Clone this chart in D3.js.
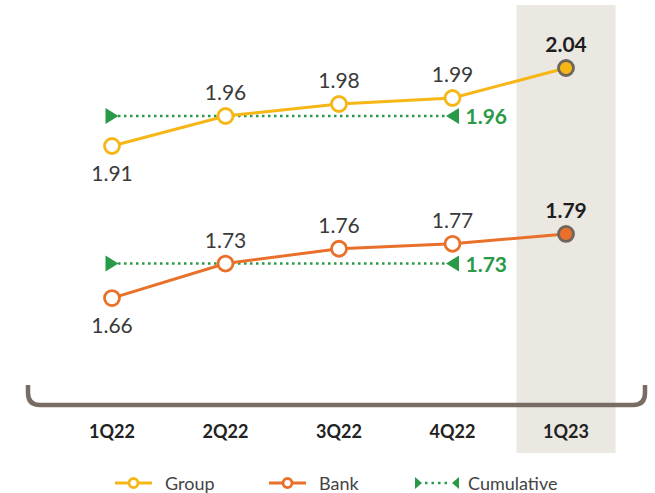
<!DOCTYPE html>
<html><head><meta charset="utf-8">
<script src="https://cdn.jsdelivr.net/npm/d3@7"></script>
<style>
html,body{margin:0;padding:0;background:#fff;}
svg{display:block;font-family:Lato,"Noto Sans",sans-serif;}
</style></head>
<body>
<svg id="chart" width="655" height="493"></svg>
<script>
const categories = ["1Q22", "2Q22", "3Q22", "4Q22", "1Q23"];
const groupValues = [1.91, 1.96, 1.98, 1.99, 2.04];
const bankValues = [1.66, 1.73, 1.76, 1.77, 1.79];
const cumulativeCategories = ["1Q22", "4Q22"];
const groupCumulative = 1.96;
const bankCumulative = 1.73;
const legendLabels = ["Group", "Bank", "Cumulative"];
const highlightCategory = "1Q23";

const colors = { group: "#f6b716", bank: "#e8702a", cum: "#2a9a48", bracket: "#786d64", hl: "#ebe8e2", ptStroke: "#6e655c" };

const svg = d3.select("#chart");
const x = d3.scalePoint().domain(categories).range([112, 566]);
const yGroup = d3.scaleLinear().domain([1.90, 2.05]).range([152, 62]);
const yBank = d3.scaleLinear().domain([1.65, 1.80]).range([303, 229]);

// highlight band
svg.append("rect")
  .attr("x", x(highlightCategory) - 49.5).attr("y", 5)
  .attr("width", 99).attr("height", 448)
  .attr("fill", colors.hl);

// bracket
const bY = 405, bL = 28, bR = 645, bTop = 385, r = 12;
svg.append("path")
  .attr("d", `M${bL},${bTop} L${bL},${bY - r} Q${bL},${bY} ${bL + r},${bY} L${bR - r},${bY} Q${bR},${bY} ${bR},${bY - r} L${bR},${bTop}`)
  .attr("fill", "none").attr("stroke", colors.bracket).attr("stroke-width", 4.5);

// category labels
svg.append("g").selectAll("text").data(categories).join("text")
  .attr("x", d => x(d)).attr("y", 438)
  .attr("text-anchor", "middle")
  .attr("font-size", 18).attr("font-weight", 700).attr("fill", "#222")
  .text(d => d);

function triangle(cx, cy, dir) {
  const w = 13, h = 16;
  if (dir > 0) return `M${cx - w/2},${cy - h/2} L${cx + w/2},${cy} L${cx - w/2},${cy + h/2} Z`;
  return `M${cx + w/2},${cy - h/2} L${cx - w/2},${cy} L${cx + w/2},${cy + h/2} Z`;
}

function drawCumulative(value, y) {
  const g = svg.append("g");
  const x0 = x(cumulativeCategories[0]), x1 = x(cumulativeCategories[1]);
  const yy = y(value);
  g.append("line").attr("x1", x0 + 6).attr("x2", x1 - 6).attr("y1", yy).attr("y2", yy)
    .attr("stroke", colors.cum).attr("stroke-width", 2.5).attr("stroke-dasharray", "2.5,3.5");
  g.append("path").attr("d", triangle(x0, yy, 1)).attr("fill", colors.cum);
  g.append("path").attr("d", triangle(x1, yy, -1)).attr("fill", colors.cum);
  g.append("text").attr("x", x1 + 13).attr("y", yy + 8)
    .attr("font-size", 21).attr("font-weight", 700).attr("fill", colors.cum)
    .text(value.toFixed(2));
}

function drawSeries(values, y, color) {
  const g = svg.append("g");
  const pts = categories.map((c, i) => ({ c, v: values[i], i }));
  g.append("path").datum(pts)
    .attr("d", d3.line().x(d => x(d.c)).y(d => y(d.v)))
    .attr("fill", "none").attr("stroke", color).attr("stroke-width", 3);
  const last = categories.length - 1;
  g.selectAll("circle").data(pts).join("circle")
    .attr("cx", d => x(d.c)).attr("cy", d => y(d.v)).attr("r", 7.5)
    .attr("fill", d => d.i === last ? color : "#fff")
    .attr("stroke", d => d.i === last ? colors.ptStroke : color)
    .attr("stroke-width", 2.8);
  g.selectAll("text").data(pts).join("text")
    .attr("x", d => x(d.c))
    .attr("y", d => d.i === 0 ? y(d.v) + 35 : y(d.v) - 16)
    .attr("text-anchor", "middle")
    .attr("font-size", 21)
    .attr("font-weight", d => d.i === last ? 700 : 400)
    .attr("fill", d => d.i === last ? "#1e1e1e" : "#3a3a3a")
    .text(d => d.v.toFixed(2));
}

drawCumulative(groupCumulative, yGroup);
drawCumulative(bankCumulative, yBank);
drawSeries(groupValues, yGroup, colors.group);
drawSeries(bankValues, yBank, colors.bank);

// legend
const lg = svg.append("g");
const ly = 483;
const legendX = [115, 269, 415];
// Group
[[colors.group, 0], [colors.bank, 1]].forEach(([col, k]) => {
  const lx = legendX[k];
  lg.append("line").attr("x1", lx).attr("x2", lx + 37).attr("y1", ly).attr("y2", ly)
    .attr("stroke", col).attr("stroke-width", 3);
  lg.append("circle").attr("cx", lx + 18.5).attr("cy", ly).attr("r", 4.5)
    .attr("fill", "#fff").attr("stroke", col).attr("stroke-width", 2.8);
  lg.append("text").attr("x", lx + 50).attr("y", ly + 7)
    .attr("font-size", 18).attr("fill", "#444").text(legendLabels[k]);
});
{
  const lx = legendX[2];
  lg.append("path").attr("d", `M${lx},${ly - 6} L${lx + 7},${ly} L${lx},${ly + 6} Z`).attr("fill", colors.cum);
  lg.append("line").attr("x1", lx + 10).attr("x2", lx + 35).attr("y1", ly).attr("y2", ly)
    .attr("stroke", colors.cum).attr("stroke-width", 2.5).attr("stroke-dasharray", "2.5,4");
  lg.append("path").attr("d", `M${lx + 44},${ly - 6} L${lx + 37},${ly} L${lx + 44},${ly + 6} Z`).attr("fill", colors.cum);
  lg.append("text").attr("x", lx + 53).attr("y", ly + 7)
    .attr("font-size", 18).attr("fill", "#444").text(legendLabels[2]);
}
</script>
</body></html>
